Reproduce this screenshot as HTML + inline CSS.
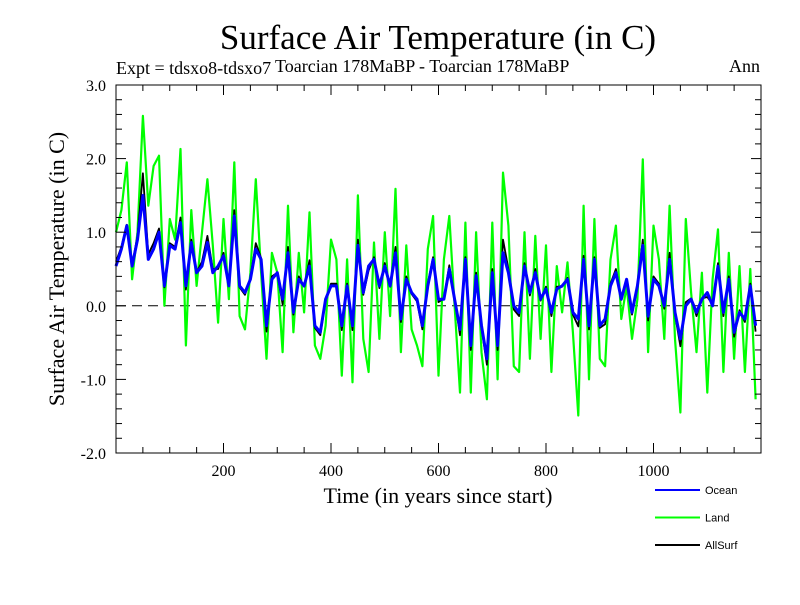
<!DOCTYPE html>
<html><head><meta charset="utf-8"><style>
body{margin:0;background:#fff;width:800px;height:600px;overflow:hidden}
text{font-family:"Liberation Serif",serif}
</style></head><body>
<svg id="chart" width="800" height="600">
<text x="438" y="49" font-size="35" text-anchor="middle">Surface Air Temperature (in C)</text>
<text x="116" y="74" font-size="18">Expt = tdsxo8-tdsxo7</text>
<text x="275" y="72" font-size="18">Toarcian 178MaBP - Toarcian 178MaBP</text>
<text x="760" y="72" font-size="18" text-anchor="end">Ann</text>
<text x="438" y="503" font-size="22" text-anchor="middle">Time (in years since start)</text>
<text transform="translate(64,269) rotate(-90)" font-size="22" text-anchor="middle">Surface Air Temperature (in C)</text>
<g id="plot"></g>
<g id="legend"></g>
</svg>
<script>
const years0 = 0, yearStep = 10;
const ocean = [0.54,0.77,1.09,0.54,0.9,1.5,0.63,0.77,1.0,0.27,0.82,0.77,1.13,0.27,0.86,0.45,0.54,0.86,0.45,0.54,0.68,0.27,1.22,0.27,0.18,0.36,0.77,0.63,-0.27,0.36,0.45,
0.09,0.72,-0.09,0.36,0.27,0.54,-0.27,-0.36,0.09,0.27,0.27,-0.27,0.27,-0.27,0.82,0.18,0.54,0.63,0.27,0.54,0.27,0.72,-0.18,0.36,0.18,0.09,-0.27,0.27,0.63,0.09,
0.09,0.5,0.09,-0.32,0.63,-0.54,0.41,-0.27,-0.72,0.45,-0.54,0.72,0.45,0,-0.09,0.54,0.18,0.45,0.09,0.23,-0.09,0.23,0.27,0.36,-0.09,-0.18,0.63,-0.27,0.63,-0.27,
-0.18,0.27,0.45,0.09,0.36,-0.09,0.27,0.82,-0.14,0.36,0.27,0,0.63,-0.09,-0.45,0,0.09,-0.09,0.09,0.18,0,0.54,-0.09,0.36,-0.36,-0.09,-0.18,0.27,-0.27];
const land = [1.0,1.3,1.95,0.36,1.0,2.58,1.36,1.9,2.04,0,1.18,0.9,2.13,-0.54,1.3,0.27,1.0,1.72,0.82,-0.23,1.18,0.09,1.95,-0.14,-0.32,0.45,1.72,0.45,-0.72,0.72,0.45,
-0.63,1.36,-0.36,0.72,-0.09,1.27,-0.54,-0.72,-0.27,0.9,0.63,-0.95,0.63,-1.04,1.5,-0.45,-0.9,0.86,-0.45,1.0,-0.14,1.59,-0.63,0.82,-0.32,-0.54,-0.82,0.77,1.22,-0.95,
0.63,1.22,0,-1.18,1.13,-1.18,1.0,-0.63,-1.27,1.13,-1.0,1.81,1.09,-0.82,-0.9,1.0,-0.72,0.95,-0.45,0.82,-0.9,0.54,-0.09,0.59,-0.36,-1.49,1.36,-1.0,1.18,-0.72,
-0.82,0.63,1.09,-0.18,0.27,-0.45,0.09,1.99,-0.63,1.09,0.63,-0.45,1.36,-0.45,-1.45,1.18,0.18,-0.63,0.45,-1.18,0.36,1.04,-0.9,0.72,-0.72,0.54,-0.9,0.5,-1.27];
const allsurf = [0.6,0.8,1.1,0.55,0.95,1.8,0.7,0.85,1.05,0.25,0.85,0.8,1.2,0.22,0.9,0.45,0.6,0.95,0.5,0.5,0.72,0.27,1.3,0.25,0.15,0.38,0.85,0.65,-0.35,0.4,0.45,
0.02,0.8,-0.12,0.4,0.26,0.62,-0.3,-0.4,0.07,0.3,0.3,-0.33,0.3,-0.33,0.9,0.15,0.48,0.66,0.24,0.58,0.26,0.8,-0.22,0.4,0.16,0.06,-0.32,0.3,0.66,0.05,
0.1,0.55,0.09,-0.4,0.66,-0.6,0.45,-0.3,-0.8,0.5,-0.6,0.9,0.5,-0.05,-0.14,0.58,0.14,0.5,0.07,0.26,-0.14,0.26,0.26,0.38,-0.12,-0.28,0.68,-0.32,0.66,-0.3,
-0.25,0.3,0.5,0.08,0.35,-0.12,0.27,0.9,-0.2,0.4,0.3,-0.04,0.72,-0.12,-0.55,0.05,0.1,-0.14,0.1,0.12,0.02,0.58,-0.14,0.4,-0.42,-0.06,-0.22,0.3,-0.35];
const yTicks = [-2,-1,0,1,2,3];
const yTickLabels = ["-2.0","-1.0","0.0","1.0","2.0","3.0"];
const xTicks = [200,400,600,800,1000];
const legendNames = ["Ocean","Land","AllSurf"];
const legendColors = ["#0000ff","#00ff00","#000000"];

const L=116,R=761,T=85,B=453, X0=0, X1=1200, Y0=-2, Y1=3;
const sx=v=>L+(v-X0)/(X1-X0)*(R-L);
const sy=v=>B-(v-Y0)/(Y1-Y0)*(B-T);
const NS="http://www.w3.org/2000/svg";
const plot=document.getElementById('plot');
function mk(tag,attrs,parent){const e=document.createElementNS(NS,tag);for(const k in attrs)e.setAttribute(k,attrs[k]);(parent||plot).appendChild(e);return e;}

const zl=mk('line',{x1:L,x2:R,y1:sy(0),y2:sy(0),stroke:'#000','stroke-width':1,'stroke-dasharray':'10,6'});



function series(vals,color,w,name){
  const pts=vals.map((v,i)=>sx(years0+i*yearStep).toFixed(1)+','+sy(v).toFixed(1)).join(' ');
  const p=mk('polyline',{points:pts,fill:'none',stroke:color,'stroke-width':w,'stroke-linejoin':'round'});
  
  
}
series(land,'#00ff00',2.2,'land-series');
series(allsurf,'#000000',1.8,'allsurf-series');
series(ocean,'#0000ff',3,'ocean-series');

const frame=mk('rect',{x:L,y:T,width:R-L,height:B-T,fill:'none',stroke:'#000','stroke-width':1});



for(let v=Y0;v<=Y1+1e-9;v+=0.2){
  const major=Math.abs(v-Math.round(v))<1e-6, len=major?10:6, y=sy(v);
  mk('line',{x1:L,x2:L+len,y1:y,y2:y,stroke:'#000'});
  mk('line',{x1:R,x2:R-len,y1:y,y2:y,stroke:'#000'});
}
for(let v=50;v<X1;v+=50){
  const major=v%200===0, len=major?10:6, x=sx(v);
  mk('line',{x1:x,x2:x,y1:B,y2:B-len,stroke:'#000'});
  mk('line',{x1:x,x2:x,y1:T,y2:T+len,stroke:'#000'});
}
yTicks.forEach((v,i)=>{
  const t=mk('text',{x:L-10,y:sy(v)+6,'font-size':16,'text-anchor':'end'});
  t.textContent=yTickLabels[i];
  
  
});
xTicks.forEach(v=>{
  const t=mk('text',{x:sx(v),y:B+23,'font-size':16,'text-anchor':'middle'});
  t.textContent=String(v);
  
  
});
const lg=document.getElementById('legend');
legendNames.forEach((n,i)=>{
  const y=490+i*27.5;
  const l=mk('line',{x1:655,x2:700,y1:y,y2:y,stroke:legendColors[i],'stroke-width':2},lg);
  
  
  const t=mk('text',{x:705,y:y+4,'font-size':11},lg);
  t.setAttribute('style','font-family:"Liberation Sans",sans-serif');
  t.textContent=n;
  
  
});
</script>
</body></html>
